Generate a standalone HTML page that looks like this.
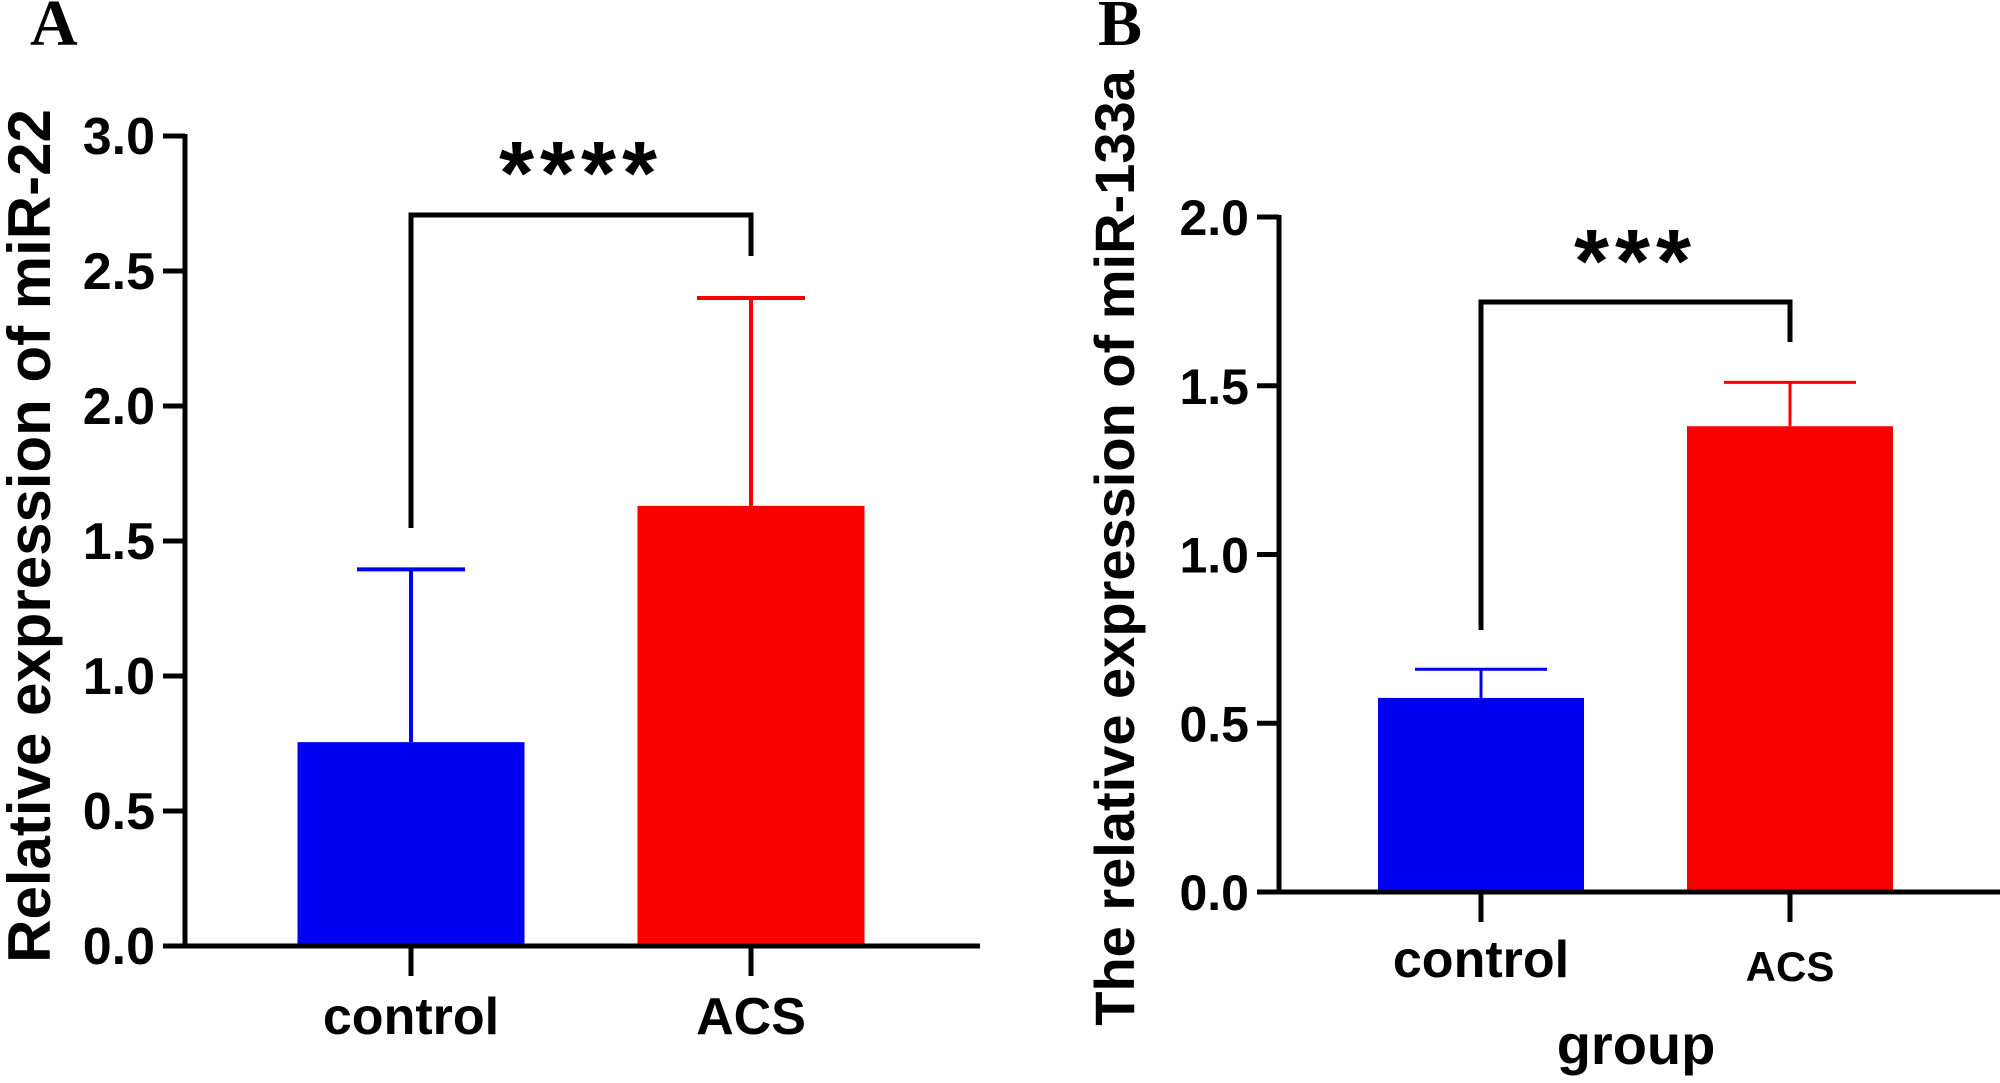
<!DOCTYPE html>
<html><head><meta charset="utf-8"><style>
html,body{margin:0;padding:0;background:#fff;}
svg{display:block;}
text{font-family:"Liberation Sans",Arial,sans-serif;font-weight:bold;fill:#000;}
</style></head><body>
<svg id="fig" width="2000" height="1083" viewBox="0 0 2000 1083" xmlns="http://www.w3.org/2000/svg">
<text x="30" y="45" style="font-family:'Liberation Serif',serif;font-size:66px">A</text>
<text x="1098" y="45" style="font-family:'Liberation Serif',serif;font-size:66px">B</text>
<g id="pa"></g>
<g id="pb"></g>
</svg>
<script>
const categories = ["control", "ACS"];
const aMeans = [0.755, 1.63];
const aErrors = [0.64, 0.77];
const aTicks = ["0.0","0.5","1.0","1.5","2.0","2.5","3.0"];
const bMeans = [0.575, 1.38];
const bErrors = [0.085, 0.13];
const bTicks = ["0.0","0.5","1.0","1.5","2.0"];
const colors = ["#0000f2", "#f80000"];
const NS = "http://www.w3.org/2000/svg";
function mk(parent, tag, attrs, txt){
  const e = document.createElementNS(NS, tag);
  for (const k in attrs) e.setAttribute(k, attrs[k]);
  if (txt !== undefined) e.textContent = txt;
  parent.appendChild(e);
  return e;
}
function draw(g, cfg){
  const y = v => cfg.y0 - (v / cfg.ymax) * (cfg.y0 - cfg.yTop);
  cfg.ticks.forEach(t => {
    const v = parseFloat(t), yy = y(v);
    const l = mk(g, "line", {x1: cfg.ax - 22, x2: cfg.ax, y1: yy, y2: yy, stroke: "#000", "stroke-width": 5});
    
    
    const tx = mk(g, "text", {x: cfg.ax - 30, y: yy + 18, "text-anchor": "end", "font-size": cfg.tickFs}, t);
    
    
  });
  categories.forEach((c, i) => {
    const cx = cfg.cx[i], top = y(cfg.means[i]), et = y(cfg.means[i] + cfg.errs[i]);
    const el = mk(g, "line", {x1: cx, x2: cx, y1: top, y2: et, stroke: colors[i], "stroke-width": cfg.ew});
    
    
    const cap = mk(g, "line", {x1: cx - cfg.cap, x2: cx + cfg.cap, y1: et, y2: et, stroke: colors[i], "stroke-width": cfg.ew});
    
    
    const r = mk(g, "rect", {x: cx - cfg.bw/2, y: top, width: cfg.bw, height: cfg.y0 - top, fill: colors[i]});
    
    
    const xt = mk(g, "line", {x1: cx, x2: cx, y1: cfg.y0, y2: cfg.y0 + 30, stroke: "#000", "stroke-width": 5});
    
    
    const lab = mk(g, "text", {x: cx, y: cfg.labY[i], "text-anchor": "middle", "font-size": cfg.labFs[i]}, c);
    
    
  });
  const ya = mk(g, "line", {x1: cfg.ax, x2: cfg.ax, y1: cfg.yTop - 2, y2: cfg.y0 + 2, stroke: "#000", "stroke-width": 5});
  
  
  const xa = mk(g, "line", {x1: cfg.ax - 2, x2: cfg.axEnd, y1: cfg.y0, y2: cfg.y0, stroke: "#000", "stroke-width": 5});
  
  
  const br = mk(g, "polyline", {points: `${cfg.cx[0]},${cfg.brL} ${cfg.cx[0]},${cfg.brTop} ${cfg.cx[1]},${cfg.brTop} ${cfg.cx[1]},${cfg.brR}`, fill: "none", stroke: "#000", "stroke-width": 5});
  
  
  const st = mk(g, "text", {x: (cfg.cx[0] + cfg.cx[1]) / 2, y: cfg.starY, "text-anchor": "middle", "font-size": 90, "letter-spacing": 6}, cfg.stars);
  
  
  const yt = mk(g, "text", {x: 0, y: 0, "text-anchor": "middle", "font-size": cfg.titleFs, transform: `translate(${cfg.titleX},${cfg.titleY}) rotate(-90)`}, cfg.title);
  
  
}
draw(document.getElementById("pa"), {
  y0: 946, yTop: 136, ymax: 3.0, ax: 185, axEnd: 980, ticks: aTicks,
  means: aMeans, errs: aErrors, cx: [411, 751], bw: 227, cap: 54, ew: 4,
  labY: [1034, 1034], labFs: [52, 52], tickFs: 52,
  brTop: 215, brL: 528, brR: 256, starY: 204, stars: "****",
  title: "Relative expression of miR-22", titleX: 50, titleY: 536, titleFs: 60
});
draw(document.getElementById("pb"), {
  y0: 892, yTop: 217, ymax: 2.0, ax: 1279, axEnd: 2000, ticks: bTicks,
  means: bMeans, errs: bErrors, cx: [1481, 1790], bw: 206, cap: 66, ew: 3,
  labY: [977, 981], labFs: [52, 42], tickFs: 50,
  brTop: 302, brL: 630, brR: 342, starY: 292, stars: "***",
  title: "The relative expression of miR-133a", titleX: 1134, titleY: 548, titleFs: 56
});
const gl = mk(document.getElementById("pb"), "text", {x: 1636, y: 1064, "text-anchor": "middle", "font-size": 56}, "group");


</script>
</body></html>
